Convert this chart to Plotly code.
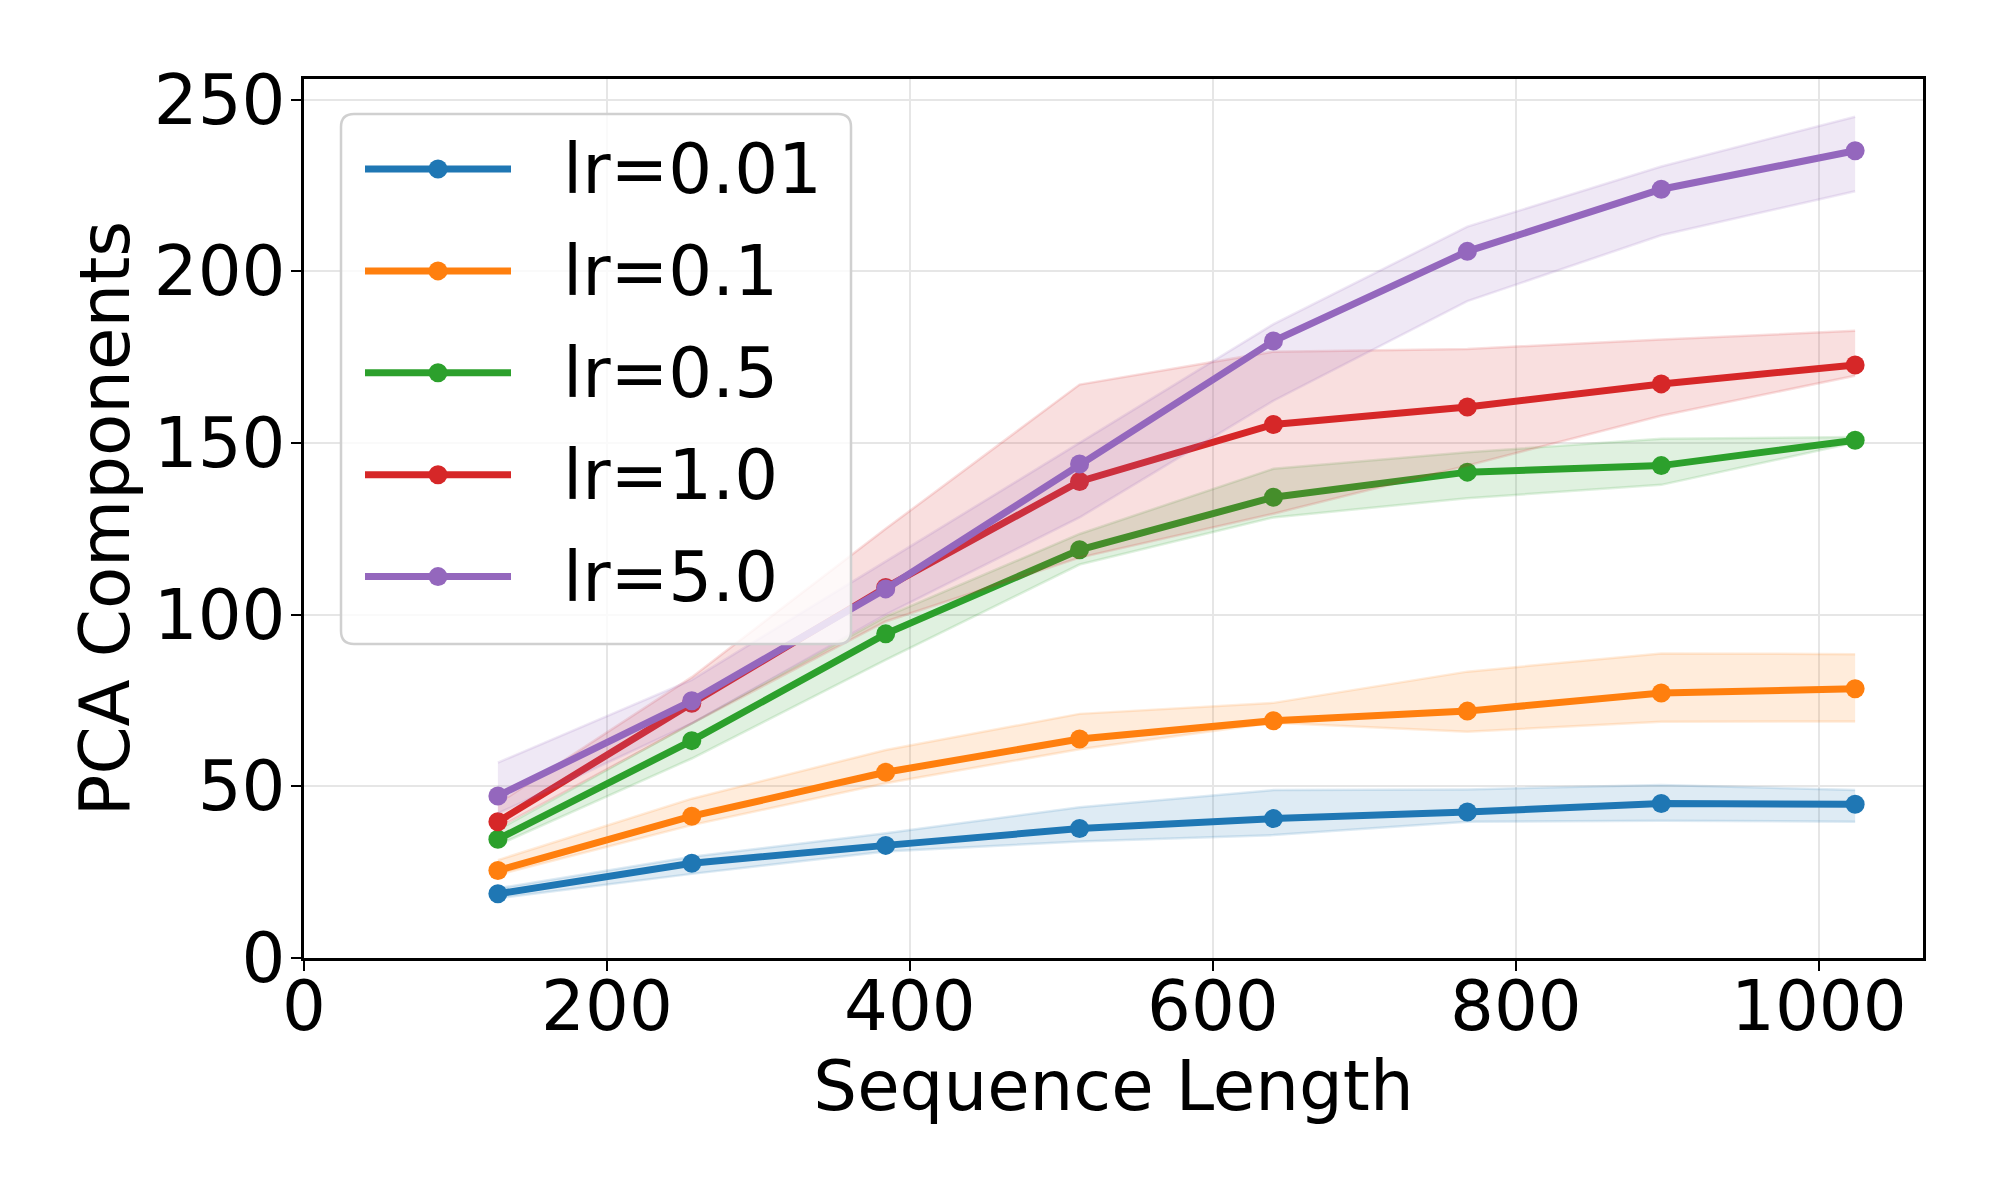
import plotly.graph_objects as go

# ---------------- data ----------------
seq_len = [128, 256, 384, 512, 640, 768, 896, 1024]
series_names = ["lr=0.01", "lr=0.1", "lr=0.5", "lr=1.0", "lr=5.0"]
colors = ["#1f77b4", "#ff7f0e", "#2ca02c", "#d62728", "#9467bd"]

mean_001 = [18.7, 27.6, 32.8, 37.7, 40.6, 42.5, 45.0, 44.8]
low_001 = [17.4, 24.5, 31.0, 33.9, 35.8, 39.7, 40.0, 39.7]
up_001 = [20.3, 29.5, 36.3, 43.9, 48.9, 49.1, 50.4, 48.9]

mean_01 = [25.5, 41.3, 54.1, 63.8, 69.1, 71.9, 77.2, 78.4]
low_01 = [24.2, 38.7, 50.9, 60.8, 68.5, 65.9, 68.8, 68.9]
up_01 = [28.5, 46.4, 60.6, 71.1, 74.3, 83.4, 88.7, 88.5]

mean_05 = [34.6, 63.3, 94.4, 118.9, 134.2, 141.5, 143.4, 150.8]
low_05 = [32.9, 58.1, 86.8, 114.6, 128.3, 133.9, 137.8, 150.1]
up_05 = [37.3, 68.3, 99.4, 123.5, 142.5, 147.3, 151.2, 151.7]

mean_10 = [39.7, 74.2, 107.9, 138.8, 155.4, 160.5, 167.2, 172.7]
low_10 = [37.9, 68.3, 98.0, 116.6, 129.4, 143.4, 157.9, 169.6]
up_10 = [45.0, 81.8, 125.0, 167.0, 176.6, 177.4, 180.1, 182.7]

mean_50 = [47.2, 74.9, 107.5, 143.9, 179.7, 205.8, 223.9, 235.1]
low_50 = [42.1, 68.3, 100.0, 128.3, 162.3, 191.3, 210.5, 223.3]
up_50 = [56.9, 81.0, 115.5, 150.1, 184.6, 213.0, 230.5, 245.0]

means = [mean_001, mean_01, mean_05, mean_10, mean_50]
lows = [low_001, low_01, low_05, low_10, low_50]
ups = [up_001, up_01, up_05, up_10, up_50]

x_ticks = [0, 200, 400, 600, 800, 1000]
y_ticks = [0, 50, 100, 150, 200, 250]
x_title = "Sequence Length"
y_title = "PCA Components"

# ---------------- layout constants ----------------
W, H = 2000, 1200
L, R, T, B = 304, 1923, 79, 958
FONT = "DejaVu Sans"
FS = 69


def rgba(hexc, a):
    h = hexc.lstrip("#")
    r, g, b = int(h[0:2], 16), int(h[2:4], 16), int(h[4:6], 16)
    return f"rgba({r},{g},{b},{a})"


def px(xp):
    return (xp - L) / (R - L)


def py(yp):
    return (B - yp) / (B - T)


fig = go.Figure()

for name, c, m, lo, up in zip(series_names, colors, means, lows, ups):
    fig.add_trace(go.Scatter(x=seq_len, y=lo, mode="lines",
                             line=dict(color=rgba(c, 0.15), width=2.5),
                             showlegend=False, hoverinfo="skip"))
    fig.add_trace(go.Scatter(x=seq_len, y=up, mode="lines", fill="tonexty",
                             fillcolor=rgba(c, 0.15),
                             line=dict(color=rgba(c, 0.15), width=2.5),
                             showlegend=False, hoverinfo="skip"))
    fig.add_trace(go.Scatter(x=seq_len, y=m, mode="lines+markers", name=name,
                             line=dict(color=c, width=7),
                             marker=dict(color=c, size=19),
                             showlegend=False))

# ---------------- custom legend (matplotlib style) ----------------
bx0, by0, bx1, by1, rr = 341, 114, 851, 644, 13
path = (f"M {px(bx0+rr)},{py(by0)} L {px(bx1-rr)},{py(by0)} "
        f"Q {px(bx1)},{py(by0)} {px(bx1)},{py(by0+rr)} "
        f"L {px(bx1)},{py(by1-rr)} Q {px(bx1)},{py(by1)} {px(bx1-rr)},{py(by1)} "
        f"L {px(bx0+rr)},{py(by1)} Q {px(bx0)},{py(by1)} {px(bx0)},{py(by1-rr)} "
        f"L {px(bx0)},{py(by0+rr)} Q {px(bx0)},{py(by0)} {px(bx0+rr)},{py(by0)} Z")
shapes = [dict(type="path", xref="paper", yref="paper", path=path,
               fillcolor="rgba(255,255,255,0.8)",
               line=dict(color="#d0d0d0", width=2.5), layer="above")]
annotations = []
row0, drow = 169, 101.9
for i, (name, c) in enumerate(zip(series_names, colors)):
    yc = row0 + i * drow
    shapes.append(dict(type="line", xref="paper", yref="paper",
                       x0=px(365), x1=px(511), y0=py(yc), y1=py(yc),
                       line=dict(color=c, width=7), layer="above"))
    shapes.append(dict(type="circle", xref="paper", yref="paper",
                       xsizemode="pixel", ysizemode="pixel",
                       xanchor=px(438), yanchor=py(yc),
                       x0=-9.5, x1=9.5, y0=-9.5, y1=9.5,
                       fillcolor=c, line=dict(width=0), layer="above"))
    annotations.append(dict(xref="paper", yref="paper", x=px(561), y=py(yc),
                            xanchor="left", yanchor="middle", text=name,
                            showarrow=False,
                            font=dict(family=FONT, size=FS, color="black")))

fig.update_layout(
    width=W, height=H,
    margin=dict(l=L, r=W - R, t=T, b=H - B, pad=0),
    paper_bgcolor="white", plot_bgcolor="white",
    font=dict(family=FONT, size=FS, color="black"),
    shapes=shapes, annotations=annotations,
    showlegend=False,
)

axis_common = dict(
    showline=True, linecolor="black", linewidth=2.5, mirror=True,
    ticks="outside", ticklen=10, tickwidth=2.2, tickcolor="black",
    showgrid=True, gridcolor="#e6e6e6", gridwidth=2.2,
    zeroline=False, tickfont=dict(family=FONT, size=FS, color="black"),
    automargin=False,
)
fig.update_xaxes(range=[0, 1068.8], tickvals=x_ticks, ticklabelstandoff=-24,
                 title=dict(text=x_title, standoff=8,
                            font=dict(family=FONT, size=FS)),
                 **axis_common)
fig.update_yaxes(range=[0, 256], tickvals=y_ticks, ticklabelstandoff=-8,
                 title=dict(text=y_title, standoff=2,
                            font=dict(family=FONT, size=FS)),
                 **axis_common)

fig.write_html("out.html")
